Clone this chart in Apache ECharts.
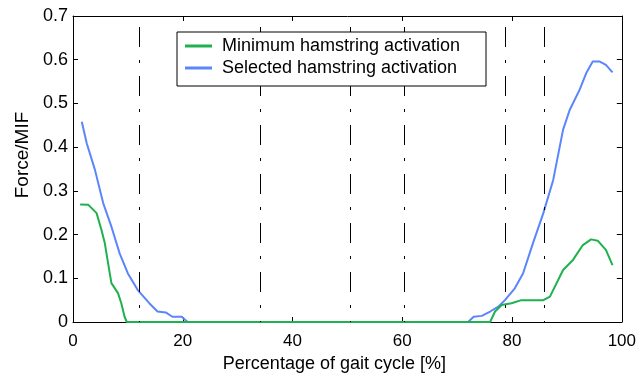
<!DOCTYPE html>
<html>
<head>
<meta charset="utf-8">
<script src="https://cdn.jsdelivr.net/npm/echarts@6/dist/echarts.min.js"></script>
<style>
  html, body { margin: 0; padding: 0; background: #fff; }
  #my-charts { width: 639px; height: 379px; }
</style>
</head>
<body>
<div id="my-charts"></div>
<script>
// selected hamstring activation (blue)
var blueX = [1.6, 2.5, 4.0, 5.5, 7.0, 8.5, 10.0, 11.8, 13.9, 15.4, 16.9, 18.1, 19.8, 20.9, 72.0, 73.0, 74.5, 76.0, 77.5, 78.7, 80.5, 82.0, 83.8, 85.7, 87.5, 89.3, 90.5, 92.3, 93.5, 94.7, 95.9, 97.1, 98.3]
var blueY = [0.458, 0.409, 0.348, 0.272, 0.218, 0.157, 0.111, 0.073, 0.043, 0.024, 0.022, 0.012, 0.012, 0, 0, 0.012, 0.014, 0.024, 0.035, 0.05, 0.077, 0.111, 0.18, 0.249, 0.325, 0.44, 0.485, 0.531, 0.569, 0.596, 0.596, 0.588, 0.571]
// minimum hamstring activation (green)
var greenX = [1.3, 2.8, 4.3, 5.2, 5.8, 6.4, 7.0, 8.2, 8.8, 9.4, 9.8, 76.0, 76.9, 78.1, 79.9, 81.7, 85.7, 86.9, 89.3, 91.1, 92.9, 94.4, 95.6, 97.1, 98.3]
var greenY = [0.269, 0.268, 0.249, 0.21, 0.18, 0.134, 0.089, 0.066, 0.043, 0.012, 0, 0, 0.024, 0.039, 0.043, 0.05, 0.05, 0.058, 0.119, 0.142, 0.176, 0.189, 0.186, 0.165, 0.13]
// gait event lines
var eventX = [12, 34.2, 50.5, 60.3, 78.7, 85.8]
var seriesNames = ['Minimum hamstring activation', 'Selected hamstring activation']

function pairs(xs, ys) {
	return xs.map(function (x, i) { return [x, ys[i]] })
}

var sans = '"Liberation Sans", Arial, sans-serif'

var myChart = echarts.init(document.getElementById('my-charts'))

var tickIn = { show: true, inside: true, length: 5, lineStyle: { color: '#000' } }
var blackLine = { show: true, onZero: false, lineStyle: { color: '#000', width: 1 } }

var option = {
	animation: false,
	backgroundColor: '#fff',
	grid: { left: 73, right: 13, top: 16, bottom: 57 },
	graphic: [
		{
			type: 'rect',
			z: 50,
			shape: { x: 177, y: 32, width: 309, height: 54 },
			style: { fill: '#fff', stroke: '#000', lineWidth: 1 }
		}
	],
	legend: {
		z: 60,
		orient: 'vertical',
		left: 185,
		top: 36,
		padding: 0,
		itemGap: 2,
		itemWidth: 27,
		itemHeight: 3,
		icon: 'rect',
		data: seriesNames,
		textStyle: { fontFamily: sans, fontSize: 18, color: '#000', lineHeight: 20, padding: [0, 0, 0, 5] }
	},
	xAxis: [
		{
			type: 'value',
			min: 0,
			max: 100,
			interval: 20,
			name: 'Percentage of gait cycle [%]',
			nameLocation: 'middle',
			nameGap: 31,
			nameTextStyle: { fontFamily: sans, fontSize: 18, color: '#000', padding: [0, 26, 0, 0] },
			axisLine: blackLine,
			axisTick: tickIn,
			axisLabel: { fontFamily: sans, fontSize: 17, color: '#000', margin: 11 },
			splitLine: { show: false }
		},
		{
			type: 'value',
			position: 'top',
			min: 0,
			max: 100,
			interval: 20,
			axisLine: blackLine,
			axisTick: tickIn,
			axisLabel: { show: false },
			splitLine: { show: false }
		}
	],
	yAxis: [
		{
			type: 'value',
			min: 0,
			max: 0.7,
			interval: 0.1,
			name: 'Force/MIF',
			nameLocation: 'middle',
			nameGap: 40,
			nameTextStyle: { fontFamily: sans, fontSize: 19, color: '#000', padding: [0, 0, 0, 28] },
			axisLine: blackLine,
			axisTick: tickIn,
			axisLabel: { fontFamily: sans, fontSize: 18, color: '#000', margin: 5 },
			splitLine: { show: false }
		},
		{
			type: 'value',
			position: 'right',
			min: 0,
			max: 0.7,
			interval: 0.1,
			axisLine: blackLine,
			axisTick: tickIn,
			axisLabel: { show: false },
			splitLine: { show: false }
		}
	],
	series: [
		{
			name: seriesNames[1],
			type: 'line',
			symbol: 'none',
			data: pairs(blueX, blueY),
			lineStyle: { color: '#5b86fb', width: 2 },
			itemStyle: { color: '#5b86fb' },
			markLine: {
				silent: true,
				symbol: 'none',
				label: { show: false },
				lineStyle: { color: '#000', width: 1, type: [20, 13, 3, 13], dashOffset: 38 },
				data: eventX.map(function (x) {
					return [{ coord: [x, 0.7] }, { coord: [x, 0] }]
				})
			}
		},
		{
			name: seriesNames[0],
			type: 'line',
			symbol: 'none',
			data: pairs(greenX, greenY),
			lineStyle: { color: '#1fb14e', width: 2 },
			itemStyle: { color: '#1fb14e' }
		}
	]
}

myChart.setOption(option)
</script>
</body>
</html>
